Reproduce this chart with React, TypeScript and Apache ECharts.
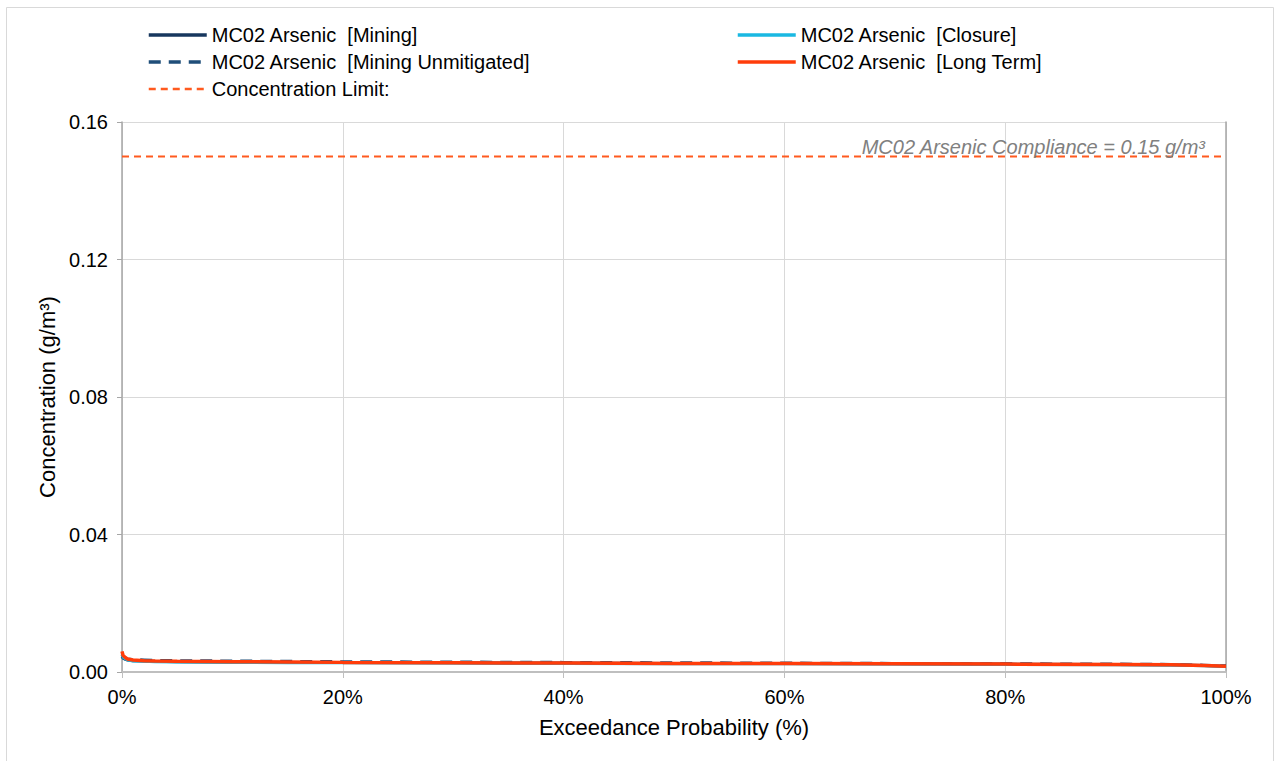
import React, { useEffect, useRef } from "react";
import * as echarts from "echarts";

const probabilities = [0, 0.1, 0.3, 0.5, 1, 2, 3, 5, 10, 15, 20, 30, 40, 50, 60, 70, 80, 90, 95, 98, 100];
const miningValues = [0.0046, 0.0040, 0.0037, 0.0035, 0.0033, 0.0032, 0.0031, 0.0030, 0.0029, 0.0028, 0.0028, 0.0027, 0.0026, 0.0025, 0.0025, 0.0024, 0.0023, 0.0022, 0.0021, 0.0019, 0.0017];
const unmitigatedValues = [0.0050, 0.0044, 0.0040, 0.0038, 0.0036, 0.0035, 0.0034, 0.0033, 0.0032, 0.0031, 0.0030, 0.0029, 0.0028, 0.0027, 0.0026, 0.0025, 0.0024, 0.0023, 0.0022, 0.0020, 0.0018];
const closureValues = [0.0052, 0.0043, 0.0038, 0.0035, 0.0032, 0.0031, 0.0030, 0.0029, 0.0028, 0.0027, 0.0027, 0.0026, 0.0025, 0.0024, 0.0024, 0.0023, 0.0022, 0.0021, 0.0020, 0.0018, 0.0016];
const longTermValues = [0.0060, 0.0048, 0.0042, 0.0038, 0.0035, 0.0033, 0.0032, 0.0031, 0.0030, 0.0029, 0.0028, 0.0027, 0.0026, 0.0025, 0.0025, 0.0024, 0.0023, 0.0022, 0.0021, 0.0019, 0.0017];
const limitProbabilities = [0, 100];
const limitValues = [0.15, 0.15];
const yTicks = [0, 0.04, 0.08, 0.12, 0.16];

const seriesNames = {
  mining: "MC02 Arsenic  [Mining]",
  unmitigated: "MC02 Arsenic  [Mining Unmitigated]",
  closure: "MC02 Arsenic  [Closure]",
  longTerm: "MC02 Arsenic  [Long Term]",
  limit: "Concentration Limit:",
};

const pair = (xs: number[], ys: number[]) => xs.map((x, i) => [x, ys[i]]);

export default function App() {
  const ref = useRef<HTMLDivElement>(null);
  useEffect(() => {
    if (!ref.current) return;
    const chart = echarts.init(ref.current, null, { renderer: "svg" });
    const font = "'Liberation Sans', Arial, sans-serif";
    const legendCommon = {
      top: 25,
      padding: 0,
      orient: "vertical",
      itemWidth: 58,
      itemHeight: 14,
      itemGap: 7,
      itemStyle: { opacity: 0 },
      textStyle: { fontSize: 20, color: "#000", fontFamily: font },
    };
    chart.setOption({
      animation: false,
      backgroundColor: "#ffffff",
      textStyle: { fontFamily: font },
      graphic: [
        {
          type: "rect",
          shape: { x: 6.5, y: 7.5, width: 1267, height: 770 },
          style: { fill: "none", stroke: "#d9d9d9", lineWidth: 1 },
          silent: true,
        },
      ],
      legend: [
        {
          ...legendCommon,
          left: 147,
          data: [
            { name: seriesNames.mining, lineStyle: { width: 3.5 } },
            { name: seriesNames.unmitigated, lineStyle: { width: 3.5 } },
            { name: seriesNames.limit, lineStyle: { width: 2.5 } },
          ],
        },
        {
          ...legendCommon,
          left: 736,
          data: [
            { name: seriesNames.closure, lineStyle: { width: 3.5 } },
            { name: seriesNames.longTerm, lineStyle: { width: 3.5 } },
          ],
        },
      ],
      grid: { left: 122, right: 51, top: 122, bottom: 89, containLabel: false },
      xAxis: {
        type: "value",
        min: 0,
        max: 100,
        interval: 20,
        name: "Exceedance Probability (%)",
        nameLocation: "middle",
        nameGap: 44,
        nameTextStyle: { fontSize: 22, color: "#000", fontFamily: font },
        axisLine: { show: true, lineStyle: { color: "#bfbfbf", width: 2 } },
        axisTick: { show: true, length: 6, lineStyle: { color: "#bfbfbf" } },
        axisLabel: { fontSize: 20, color: "#000", margin: 15, formatter: (v: number) => `${v}%` },
        splitLine: { show: true, lineStyle: { color: "#d9d9d9", width: 1 } },
      },
      yAxis: [
        {
          type: "value",
          min: 0,
          max: yTicks[yTicks.length - 1],
          interval: 0.04,
          name: "Concentration (g/m³)",
          nameLocation: "middle",
          nameGap: 64,
          nameTextStyle: { fontSize: 22, color: "#000", fontFamily: font },
          axisLine: { show: true, lineStyle: { color: "#a6a6a6", width: 1.5 } },
          axisTick: { show: true, length: 5, lineStyle: { color: "#a6a6a6" } },
          axisLabel: { fontSize: 20, color: "#000", margin: 14, formatter: (v: number) => v.toFixed(2) },
          splitLine: { show: true, lineStyle: { color: "#d9d9d9", width: 1 } },
        },
        {
          type: "value",
          min: 0,
          max: yTicks[yTicks.length - 1],
          interval: 0.04,
          position: "right",
          axisLine: { show: true, lineStyle: { color: "#a6a6a6", width: 1.5 } },
          axisTick: { show: false },
          axisLabel: { show: false },
          splitLine: { show: false },
        },
      ],
      series: [
        {
          name: seriesNames.mining,
          type: "line",
          symbol: "none",
          data: pair(probabilities, miningValues),
          lineStyle: { color: "#17375e", width: 3 },
          itemStyle: { color: "#17375e" },
        },
        {
          name: seriesNames.unmitigated,
          type: "line",
          symbol: "none",
          data: pair(probabilities, unmitigatedValues),
          lineStyle: { color: "#1f4e79", width: 3, type: [12, 8] },
          itemStyle: { color: "#1f4e79" },
        },
        {
          name: seriesNames.closure,
          type: "line",
          symbol: "none",
          data: pair(probabilities, closureValues),
          lineStyle: { color: "#1ab8e2", width: 3 },
          itemStyle: { color: "#1ab8e2" },
        },
        {
          name: seriesNames.longTerm,
          type: "line",
          symbol: "none",
          data: pair(probabilities, longTermValues),
          lineStyle: { color: "#ff3c0a", width: 3.5 },
          itemStyle: { color: "#ff3c0a" },
        },
        {
          name: seriesNames.limit,
          type: "line",
          symbol: "none",
          data: pair(limitProbabilities, limitValues),
          lineStyle: { color: "#ff5a1f", width: 2, type: [7, 5] },
          itemStyle: { color: "#ff5a1f" },
          endLabel: {
            show: true,
            formatter: "MC02 Arsenic Compliance = 0.15 g/m³",
            align: "right",
            verticalAlign: "middle",
            offset: [-29, -9],
            fontSize: 20,
            fontStyle: "italic",
            color: "#808080",
            fontFamily: font,
          },
        },
      ],
    });
    return () => chart.dispose();
  }, []);
  return (
    <div
      ref={ref}
      style={{ position: "absolute", left: 0, top: 0, width: 1277, height: 761 }}
    />
  );
}
